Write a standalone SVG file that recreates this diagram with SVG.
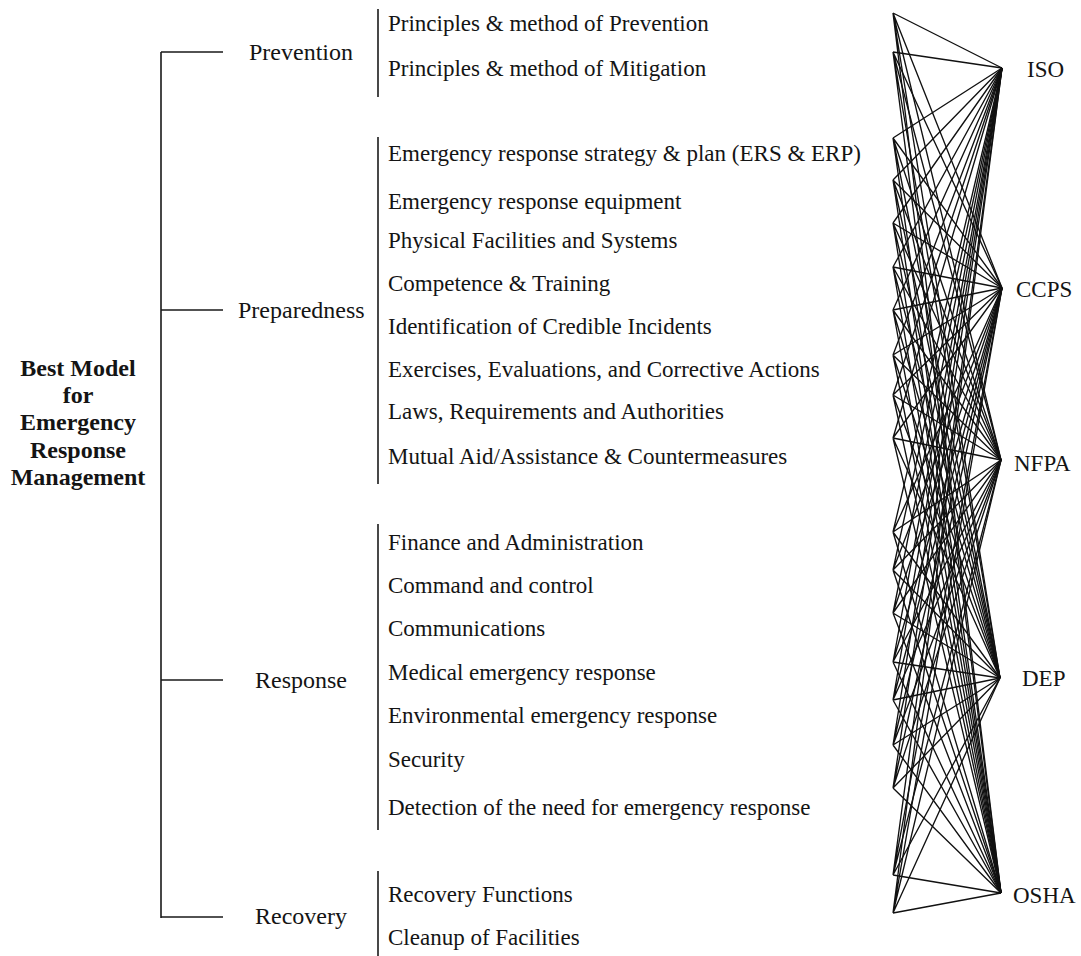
<svg xmlns="http://www.w3.org/2000/svg" width="1081" height="956" viewBox="0 0 1081 956">
<style>
.t{font-family:"Liberation Serif","Times New Roman",serif;font-size:23px;fill:#141414}
.c{font-family:"Liberation Serif","Times New Roman",serif;font-size:24px;fill:#141414}
.r{font-family:"Liberation Serif","Times New Roman",serif;font-size:24px;font-weight:bold;fill:#141414;text-anchor:middle}
.s{font-family:"Liberation Serif","Times New Roman",serif;font-size:23px;fill:#141414}
.ln{stroke:#1a1a1a;stroke-width:1.6;fill:none}
.fan{stroke:#111;stroke-width:1.35;fill:none}
</style>
<rect width="1081" height="956" fill="#fff"/>
<g id="root">
<text class="r" x="78" y="376">Best Model</text>
<text class="r" x="78" y="403">for</text>
<text class="r" x="78" y="430">Emergency</text>
<text class="r" x="78" y="458">Response</text>
<text class="r" x="78" y="485">Management</text>
</g>
<g id="tree">
<path class="ln" d="M161 52 V918 M161 52 H223 M161 310 H223 M161 680 H223 M161 917 H223"/>
</g>
<g id="prevention">
<text class="c" x="249" y="60">Prevention</text>
<path class="ln" d="M378 9 V97"/>
<text class="t" x="388" y="31">Principles &amp; method of Prevention</text>
<text class="t" x="388" y="76">Principles &amp; method of Mitigation</text>
</g>
<g id="preparedness">
<text class="c" x="238" y="318">Preparedness</text>
<path class="ln" d="M378 137 V484"/>
<text class="t" x="388" y="161">Emergency response strategy &amp; plan (ERS &amp; ERP)</text>
<text class="t" x="388" y="209">Emergency response equipment</text>
<text class="t" x="388" y="248">Physical Facilities and Systems</text>
<text class="t" x="388" y="291">Competence &amp; Training</text>
<text class="t" x="388" y="334">Identification of Credible Incidents</text>
<text class="t" x="388" y="377">Exercises, Evaluations, and Corrective Actions</text>
<text class="t" x="388" y="419">Laws, Requirements and Authorities</text>
<text class="t" x="388" y="464">Mutual Aid/Assistance &amp; Countermeasures</text>
</g>
<g id="response">
<text class="c" x="255" y="688">Response</text>
<path class="ln" d="M378 524 V830"/>
<text class="t" x="388" y="550">Finance and Administration</text>
<text class="t" x="388" y="593">Command and control</text>
<text class="t" x="388" y="636">Communications</text>
<text class="t" x="388" y="680">Medical emergency response</text>
<text class="t" x="388" y="723">Environmental emergency response</text>
<text class="t" x="388" y="767">Security</text>
<text class="t" x="388" y="815">Detection of the need for emergency response</text>
</g>
<g id="recovery">
<text class="c" x="255" y="924">Recovery</text>
<path class="ln" d="M378 871 V956"/>
<text class="t" x="388" y="902">Recovery Functions</text>
<text class="t" x="388" y="945">Cleanup of Facilities</text>
</g>
<g id="standards">
<text class="s" x="1027" y="77">ISO</text>
<text class="s" x="1016" y="297">CCPS</text>
<text class="s" x="1014" y="471">NFPA</text>
<text class="s" x="1022" y="686">DEP</text>
<text class="s" x="1013" y="903">OSHA</text>
</g>
<g id="connectors" class="fan">
<path d="M893 13 L1002 68 M893 13 L1002 288 M893 13 L1001 460 M893 13 L1000 678 M893 13 L1001 893"/>
<path d="M893 52 L1002 68 M893 52 L1002 288 M893 52 L1001 460 M893 52 L1000 678 M893 52 L1001 893"/>
<path d="M893 138 L1002 68 M893 138 L1002 288 M893 138 L1001 460 M893 138 L1000 678 M893 138 L1001 893"/>
<path d="M893 180 L1002 68 M893 180 L1002 288 M893 180 L1001 460 M893 180 L1000 678 M893 180 L1001 893"/>
<path d="M893 223 L1002 68 M893 223 L1002 288 M893 223 L1001 460 M893 223 L1000 678 M893 223 L1001 893"/>
<path d="M893 267 L1002 68 M893 267 L1002 288 M893 267 L1001 460 M893 267 L1000 678 M893 267 L1001 893"/>
<path d="M893 310 L1002 68 M893 310 L1002 288 M893 310 L1001 460 M893 310 L1000 678 M893 310 L1001 893"/>
<path d="M893 355 L1002 68 M893 355 L1002 288 M893 355 L1001 460 M893 355 L1000 678 M893 355 L1001 893"/>
<path d="M893 395 L1002 68 M893 395 L1002 288 M893 395 L1001 460 M893 395 L1000 678 M893 395 L1001 893"/>
<path d="M893 438 L1002 68 M893 438 L1002 288 M893 438 L1001 460 M893 438 L1000 678 M893 438 L1001 893"/>
<path d="M893 532 L1002 68 M893 532 L1002 288 M893 532 L1001 460 M893 532 L1000 678 M893 532 L1001 893"/>
<path d="M893 570 L1002 68 M893 570 L1002 288 M893 570 L1001 460 M893 570 L1000 678 M893 570 L1001 893"/>
<path d="M893 613 L1002 68 M893 613 L1002 288 M893 613 L1001 460 M893 613 L1000 678 M893 613 L1001 893"/>
<path d="M893 662 L1002 68 M893 662 L1002 288 M893 662 L1001 460 M893 662 L1000 678 M893 662 L1001 893"/>
<path d="M893 700 L1002 68 M893 700 L1002 288 M893 700 L1001 460 M893 700 L1000 678 M893 700 L1001 893"/>
<path d="M893 745 L1002 68 M893 745 L1002 288 M893 745 L1001 460 M893 745 L1000 678 M893 745 L1001 893"/>
<path d="M893 788 L1002 68 M893 788 L1002 288 M893 788 L1001 460 M893 788 L1000 678 M893 788 L1001 893"/>
<path d="M893 875 L1002 68 M893 875 L1002 288 M893 875 L1001 460 M893 875 L1000 678 M893 875 L1001 893"/>
<path d="M893 913 L1002 68 M893 913 L1002 288 M893 913 L1001 460 M893 913 L1000 678 M893 913 L1001 893"/>
</g>
</svg>
